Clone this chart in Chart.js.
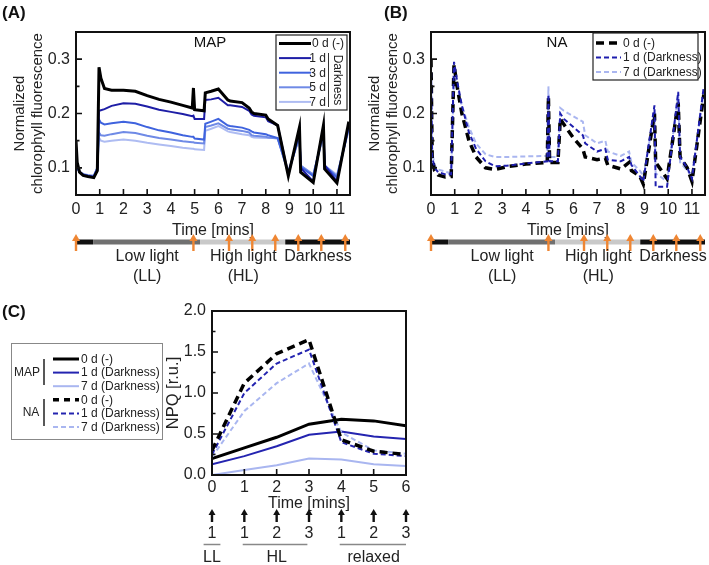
<!DOCTYPE html>
<html>
<head>
<meta charset="utf-8">
<script src="https://cdn.jsdelivr.net/npm/chart.js@4.4.1/dist/chart.umd.min.js"></script>
<style>
  body { margin: 0; background: #fff; width: 709px; height: 565px; position: relative; overflow: hidden; }
  canvas { position: absolute; }
</style>
</head>
<body>
<canvas id="chartA" width="355" height="295" style="left:0;top:0"></canvas>
<canvas id="chartB" width="354" height="295" style="left:355px;top:0"></canvas>
<canvas id="chartC" width="709" height="270" style="left:0;top:295px"></canvas>
<script>
// ---- data ----
const timeA = [0, 0.05, 0.15, 0.3, 0.5, 0.75, 0.9, 0.97, 1.05, 1.2, 1.5, 2.0, 2.5, 3.0, 3.5, 4.0, 4.5, 4.9, 4.95, 5.0, 5.4, 5.45, 5.7, 6.0, 6.4, 6.5, 7.0, 7.3, 7.4, 7.5, 8.0, 8.1, 8.5, 8.95, 9.42, 9.47, 10.0, 10.43, 10.48, 11.0, 11.5];
const mapDay0 = [0.15, 0.11, 0.092, 0.086, 0.084, 0.082, 0.095, 0.285, 0.265, 0.246, 0.243, 0.243, 0.241, 0.233, 0.226, 0.221, 0.215, 0.21, 0.247, 0.207, 0.205, 0.238, 0.241, 0.245, 0.225, 0.223, 0.22, 0.21, 0.203, 0.2, 0.197, 0.19, 0.178, 0.085, 0.175, 0.092, 0.073, 0.178, 0.098, 0.072, 0.185];
const mapDay1 = [0.14, 0.105, 0.092, 0.087, 0.085, 0.083, 0.097, 0.205, 0.206, 0.208, 0.214, 0.219, 0.218, 0.213, 0.207, 0.203, 0.199, 0.195, 0.196, 0.19, 0.19, 0.225, 0.226, 0.229, 0.215, 0.215, 0.212, 0.205, 0.198, 0.196, 0.193, 0.186, 0.178, 0.087, 0.17, 0.1, 0.075, 0.175, 0.105, 0.075, 0.18];
const mapDay3 = [0.13, 0.1, 0.092, 0.088, 0.086, 0.084, 0.1, 0.189, 0.183, 0.18, 0.182, 0.185, 0.182, 0.175, 0.169, 0.165, 0.16, 0.157, 0.157, 0.154, 0.152, 0.181, 0.185, 0.19, 0.178, 0.177, 0.174, 0.17, 0.167, 0.165, 0.162, 0.16, 0.155, 0.09, 0.16, 0.102, 0.085, 0.165, 0.104, 0.082, 0.175];
const mapDay5 = [0.125, 0.1, 0.092, 0.088, 0.086, 0.085, 0.1, 0.165, 0.16, 0.159, 0.162, 0.166, 0.164, 0.159, 0.155, 0.152, 0.149, 0.147, 0.147, 0.146, 0.145, 0.175, 0.178, 0.182, 0.172, 0.171, 0.168, 0.165, 0.16, 0.159, 0.157, 0.156, 0.154, 0.092, 0.158, 0.104, 0.087, 0.162, 0.104, 0.085, 0.172];
const mapDay7 = [0.12, 0.1, 0.093, 0.089, 0.087, 0.086, 0.1, 0.155, 0.15, 0.148, 0.15, 0.152, 0.15, 0.146, 0.143, 0.14, 0.137, 0.135, 0.135, 0.134, 0.133, 0.168, 0.172, 0.177, 0.167, 0.166, 0.162, 0.16, 0.157, 0.156, 0.155, 0.155, 0.155, 0.095, 0.155, 0.104, 0.088, 0.16, 0.104, 0.087, 0.17];

const timeB = [0, 0.05, 0.15, 0.3, 0.6, 0.85, 0.97, 1.1, 1.3, 1.6, 1.9, 2.3, 2.7, 3.2, 4.0, 4.9, 4.95, 5.0, 5.35, 5.45, 5.6, 6.0, 6.4, 6.5, 7.0, 7.35, 7.45, 8.0, 8.35, 8.45, 8.8, 8.95, 9.42, 9.47, 9.95, 10.42, 10.5, 10.8, 11.0, 11.5];
const naDay0 = [0.3, 0.12, 0.095, 0.087, 0.083, 0.084, 0.29, 0.25, 0.2, 0.15, 0.12, 0.1, 0.097, 0.102, 0.107, 0.11, 0.23, 0.11, 0.11, 0.19, 0.18, 0.155, 0.135, 0.12, 0.115, 0.118, 0.105, 0.098, 0.11, 0.095, 0.085, 0.07, 0.2, 0.11, 0.08, 0.22, 0.12, 0.1, 0.075, 0.235];
const naDay1 = [0.29, 0.12, 0.1, 0.092, 0.088, 0.088, 0.295, 0.26, 0.215, 0.165, 0.135, 0.112, 0.103, 0.104, 0.108, 0.112, 0.235, 0.112, 0.112, 0.2, 0.19, 0.175, 0.16, 0.145, 0.13, 0.135, 0.115, 0.112, 0.12, 0.105, 0.085, 0.075, 0.215, 0.065, 0.065, 0.24, 0.12, 0.1, 0.08, 0.25];
const naDay7 = [0.27, 0.13, 0.105, 0.097, 0.093, 0.09, 0.27, 0.25, 0.215, 0.175, 0.145, 0.125, 0.12, 0.12, 0.121, 0.122, 0.25, 0.12, 0.12, 0.21, 0.205, 0.195, 0.185, 0.16, 0.145, 0.15, 0.13, 0.122, 0.13, 0.11, 0.095, 0.085, 0.2, 0.09, 0.075, 0.235, 0.11, 0.095, 0.085, 0.24];

const xTicksAB = [0, 1, 2, 3, 4, 5, 6, 7, 8, 9, 10, 11];
const yTicksAB = [0.1, 0.2, 0.3];

// light protocol (minutes)
const phaseStart = [0, 0.72, 5.23, 8.82];
const phaseEnd = [0.72, 5.23, 8.82, 11.55];
const phaseColor = ['#111', '#707070', '#c9c9c9', '#111'];
const pulseTimes = [0, 4.95, 6.45, 7.43, 8.4, 9.37, 10.34, 11.35];
const phaseLabels = [['Low light', '(LL)'], ['High light', '(HL)'], ['Darkness']];
const phaseLabelAt = [3.0, 7.05, 10.2];

// panel C
const timeC = [0, 1, 2, 3, 4, 5, 6];
const npqMap0 = [0.2, 0.33, 0.46, 0.62, 0.68, 0.66, 0.60];
const npqMap1 = [0.13, 0.23, 0.35, 0.49, 0.53, 0.47, 0.44];
const npqMap7 = [0.0, 0.06, 0.12, 0.2, 0.19, 0.13, 0.11];
const npqNa0 = [0.3, 1.12, 1.48, 1.65, 0.43, 0.29, 0.25];
const npqNa1 = [0.25, 1.0, 1.36, 1.53, 0.4, 0.26, 0.23];
const npqNa7 = [0.22, 0.78, 1.12, 1.36, 0.52, 0.3, 0.26];
const yTicksC = [0, 0.5, 1.0, 1.5, 2.0];
const pulseNumC = ['1', '1', '2', '3', '1', '2', '3'];

const FONT = "'Liberation Sans', Arial, sans-serif";
Chart.defaults.font.family = FONT;
Chart.defaults.color = '#222';

const pts = (xs, ys) => xs.map((x, i) => ({ x: x, y: ys[i] }));

function line(label, xs, ys, color, width, dash) {
  return {
    label: label, data: pts(xs, ys), borderColor: color, borderWidth: width,
    borderDash: dash || [], pointRadius: 0, tension: 0, fill: false
  };
}

function frameAndTicks(chart, xMajor, yMajor, yMinor) {
  const ctx = chart.ctx, a = chart.chartArea, sx = chart.scales.x, sy = chart.scales.y;
  ctx.save();
  ctx.strokeStyle = '#111';
  ctx.lineWidth = 1.6;
  ctx.beginPath();
  xMajor.forEach(v => { const p = sx.getPixelForValue(v); ctx.moveTo(p, a.bottom); ctx.lineTo(p, a.bottom - 6); });
  yMajor.forEach(v => { const p = sy.getPixelForValue(v); ctx.moveTo(a.left, p); ctx.lineTo(a.left + 6, p); });
  yMinor.forEach(v => { const p = sy.getPixelForValue(v); ctx.moveTo(a.left, p); ctx.lineTo(a.left + 3.5, p); });
  ctx.stroke();
  ctx.lineWidth = 2;
  ctx.strokeRect(a.left, a.top, a.right - a.left, a.bottom - a.top);
  ctx.restore();
}

function arrowUp(ctx, x, tip, color, w, head, stem) {
  ctx.fillStyle = color;
  ctx.beginPath();
  ctx.moveTo(x, tip);
  ctx.lineTo(x + w / 2, tip + head);
  ctx.lineTo(x - w / 2, tip + head);
  ctx.closePath();
  ctx.fill();
  ctx.fillRect(x - 1.2, tip + head - 1, 2.4, stem);
}

function protocolBar(chart) {
  const ctx = chart.ctx, sx = chart.scales.x;
  ctx.save();
  for (let i = 0; i < phaseStart.length; i++) {
    const x0 = sx.getPixelForValue(phaseStart[i]), x1 = sx.getPixelForValue(phaseEnd[i]);
    ctx.fillStyle = phaseColor[i];
    ctx.fillRect(x0, 239.5, x1 - x0, 5);
  }
  pulseTimes.forEach(t => arrowUp(ctx, sx.getPixelForValue(t), 234, '#ef8633', 8, 7, 11));
  ctx.fillStyle = '#222';
  ctx.font = '16px ' + FONT;
  ctx.textAlign = 'center';
  ctx.textBaseline = 'middle';
  phaseLabels.forEach((lines, i) => {
    lines.forEach((s, j) => ctx.fillText(s, sx.getPixelForValue(phaseLabelAt[i]), 257 + j * 20));
  });
  ctx.restore();
}

function sample(ctx, x0, x1, y, color, width, dash) {
  ctx.save();
  ctx.strokeStyle = color;
  ctx.lineWidth = width;
  ctx.setLineDash(dash || []);
  ctx.beginPath();
  ctx.moveTo(x0, y);
  ctx.lineTo(x1, y);
  ctx.stroke();
  ctx.restore();
}

function xyScales(xTicks, yTicks, ymin, ymax, xmax, yTitle, yTitlePad, yWidth, xHeight, xTitlePad, tickPadX) {
  return {
    x: {
      type: 'linear', min: 0, max: xmax,
      afterBuildTicks: s => { s.ticks = xTicks.map(v => ({ value: v })); },
      afterFit: s => { s.height = xHeight; },
      grid: { display: false, drawTicks: false }, border: { display: false },
      ticks: { font: { size: 16 }, color: '#222', padding: tickPadX, maxRotation: 0, autoSkip: false },
      title: { display: true, text: 'Time [mins]', font: { size: 16 }, color: '#222', padding: { top: 0, bottom: xTitlePad } }
    },
    y: {
      min: ymin, max: ymax,
      afterBuildTicks: s => { s.ticks = yTicks.map(v => ({ value: v })); },
      afterFit: s => { s.width = yWidth; },
      grid: { display: false, drawTicks: false }, border: { display: false },
      ticks: { font: { size: 16 }, color: '#222', padding: 6, callback: v => Number(v).toFixed(1) },
      title: { display: true, text: yTitle, font: { size: yTitle.length === 2 ? 15 : 16.5 }, color: '#222', padding: { top: yTitlePad } }
    }
  };
}

// ---- panel A ----
const colA = ['#000000', '#1e1ea6', '#3f63de', '#6f8ae6', '#aebcf2'];
const legendA = ['0 d (-)', '1 d', '3 d', '5 d', '7 d'];

new Chart(document.getElementById('chartA'), {
  type: 'line',
  data: {
    datasets: [
      line('0 d (-)', timeA, mapDay0, colA[0], 3),
      line('1 d', timeA, mapDay1, colA[1], 2),
      line('3 d', timeA, mapDay3, colA[2], 2),
      line('5 d', timeA, mapDay5, colA[3], 2),
      line('7 d', timeA, mapDay7, colA[4], 2)
    ]
  },
  options: {
    responsive: false, animation: false,
    layout: { padding: { left: 0, top: 32, right: 5, bottom: 55 } },
    plugins: { legend: { display: false }, tooltip: { enabled: false } },
    scales: xyScales(xTicksAB, yTicksAB, 0.05, 0.35, 11.55, ['Normalized', 'chlorophyll fluorescence'], 11, 76, 45, 0, 5)
  },
  plugins: [{
    id: 'decorA',
    afterDraw(chart) {
      const ctx = chart.ctx;
      frameAndTicks(chart, xTicksAB, yTicksAB, [0.15, 0.25]);
      protocolBar(chart);
      ctx.save();
      ctx.fillStyle = '#111';
      ctx.font = 'bold 17px ' + FONT;
      ctx.textBaseline = 'middle';
      ctx.fillText('(A)', 2, 13);
      ctx.font = '15px ' + FONT;
      ctx.textAlign = 'center';
      ctx.fillText('MAP', 210, 43);
      // legend
      ctx.fillStyle = '#fff';
      ctx.fillRect(276, 35, 71, 75);
      ctx.strokeStyle = '#222';
      ctx.lineWidth = 1.2;
      ctx.strokeRect(276, 35, 71, 75);
      ctx.font = '12px ' + FONT;
      ctx.textAlign = 'right';
      legendA.forEach((s, i) => {
        const y = 43.5 + i * 14.6;
        sample(ctx, 279, 311, y, colA[i], i === 0 ? 3 : 2);
        ctx.fillStyle = '#222';
        ctx.fillText(s, i === 0 ? 344 : 326, y + 0.5);
      });
      ctx.strokeStyle = '#333';
      ctx.lineWidth = 1;
      ctx.beginPath();
      ctx.moveTo(328.5, 53);
      ctx.lineTo(328.5, 107);
      ctx.stroke();
      ctx.translate(337.5, 80);
      ctx.rotate(Math.PI / 2);
      ctx.textAlign = 'center';
      ctx.fillText('Darkness', 0, 0);
      ctx.restore();
    }
  }]
});

// ---- panel B ----
const colB = ['#000000', '#1e1eae', '#aab6f0'];
const dashB = [[8, 5], [5, 3], [5, 3]];
const widthB = [3.5, 2, 2];
const legendB = ['0 d (-)', '1 d (Darkness)', '7 d (Darkness)'];

new Chart(document.getElementById('chartB'), {
  type: 'line',
  data: {
    datasets: [
      line('1 d (Darkness)', timeB, naDay1, colB[1], widthB[1], dashB[1]),
      line('0 d (-)', timeB, naDay0, colB[0], widthB[0], dashB[0]),
      line('7 d (Darkness)', timeB, naDay7, colB[2], widthB[2], dashB[2])
    ]
  },
  options: {
    responsive: false, animation: false,
    layout: { padding: { left: 0, top: 32, right: 4, bottom: 55 } },
    plugins: { legend: { display: false }, tooltip: { enabled: false } },
    scales: xyScales(xTicksAB, yTicksAB, 0.05, 0.35, 11.55, ['Normalized', 'chlorophyll fluorescence'], 11, 76, 45, 0, 5)
  },
  plugins: [{
    id: 'decorB',
    afterDraw(chart) {
      const ctx = chart.ctx;
      frameAndTicks(chart, xTicksAB, yTicksAB, [0.15, 0.25]);
      protocolBar(chart);
      ctx.save();
      ctx.fillStyle = '#111';
      ctx.font = 'bold 17px ' + FONT;
      ctx.textBaseline = 'middle';
      ctx.fillText('(B)', 29, 13);
      ctx.font = '15px ' + FONT;
      ctx.textAlign = 'center';
      ctx.fillText('NA', 202, 43);
      ctx.fillStyle = '#fff';
      ctx.fillRect(238, 33, 105, 47);
      ctx.strokeStyle = '#222';
      ctx.lineWidth = 1.2;
      ctx.strokeRect(238, 33, 105, 47);
      ctx.font = '12px ' + FONT;
      ctx.textAlign = 'left';
      legendB.forEach((s, i) => {
        const y = 43 + i * 14.5;
        sample(ctx, 241, 266, y, colB[i], widthB[i], dashB[i]);
        ctx.fillStyle = '#222';
        ctx.fillText(s, 268, y + 0.5);
      });
      ctx.restore();
    }
  }]
});

// ---- panel C ----
const colC = ['#000000', '#2424b0', '#a9b6f0'];
const legendC = ['0 d (-)', '1 d (Darkness)', '7 d (Darkness)'];

new Chart(document.getElementById('chartC'), {
  type: 'line',
  data: {
    datasets: [
      line('NA 0 d (-)', timeC, npqNa0, colC[0], 3.5, [8, 5]),
      line('NA 1 d (Darkness)', timeC, npqNa1, colC[1], 2, [5, 3]),
      line('NA 7 d (Darkness)', timeC, npqNa7, colC[2], 2, [5, 3]),
      line('MAP 0 d (-)', timeC, npqMap0, colC[0], 3),
      line('MAP 1 d (Darkness)', timeC, npqMap1, colC[1], 2),
      line('MAP 7 d (Darkness)', timeC, npqMap7, colC[2], 2)
    ]
  },
  options: {
    responsive: false, animation: false,
    layout: { padding: { left: 160, top: 16, right: 303, bottom: 52 } },
    plugins: { legend: { display: false }, tooltip: { enabled: false } },
    scales: (() => {
      const s = xyScales(timeC, yTicksC, 0, 2, 6, 'NPQ [r.u.]', 4, 52, 38, 0, 3);
      s.x.ticks.callback = v => String(v);
      return s;
    })()
  },
  plugins: [{
    id: 'decorC',
    afterDraw(chart) {
      const ctx = chart.ctx, sx = chart.scales.x;
      frameAndTicks(chart, timeC, yTicksC, [0.25, 0.75, 1.25, 1.75]);
      ctx.save();
      ctx.fillStyle = '#111';
      ctx.font = 'bold 17px ' + FONT;
      ctx.textBaseline = 'middle';
      ctx.fillText('(C)', 2, 17);
      // pulses below the axis
      ctx.font = '16px ' + FONT;
      ctx.textAlign = 'center';
      timeC.forEach((t, i) => {
        const x = sx.getPixelForValue(t);
        arrowUp(ctx, x, 214, '#111', 7, 6, 8);
        ctx.fillStyle = '#222';
        ctx.fillText(pulseNumC[i], x, 239);
      });
      ctx.strokeStyle = '#888';
      ctx.lineWidth = 1.5;
      [[-0.26, 0.26], [0.95, 2.95], [3.95, 6.0]].forEach(r => {
        ctx.beginPath();
        ctx.moveTo(sx.getPixelForValue(r[0]), 249.5);
        ctx.lineTo(sx.getPixelForValue(r[1]), 249.5);
        ctx.stroke();
      });
      ctx.fillStyle = '#222';
      ctx.fillText('LL', sx.getPixelForValue(0), 263);
      ctx.fillText('HL', sx.getPixelForValue(2), 263);
      ctx.fillText('relaxed', sx.getPixelForValue(5), 263);
      // legend
      ctx.strokeStyle = '#888';
      ctx.lineWidth = 1;
      ctx.strokeRect(11.5, 48.5, 151, 96);
      ctx.font = '12px ' + FONT;
      ctx.textAlign = 'left';
      for (let i = 0; i < 6; i++) {
        const y = 64 + i * 13.6;
        const k = i % 3;
        if (i < 3) sample(ctx, 53, 79, y, colC[k], k === 0 ? 3 : 2);
        else sample(ctx, 53, 79, y, colC[k], k === 0 ? 3.5 : 2, k === 0 ? [6, 5] : [5, 3]);
        ctx.fillStyle = '#222';
        ctx.fillText(legendC[k], 81, y + 0.5);
      }
      ctx.textAlign = 'center';
      ctx.fillText('MAP', 27, 78);
      ctx.fillText('NA', 31, 118);
      ctx.strokeStyle = '#222';
      ctx.lineWidth = 1.5;
      ctx.beginPath();
      ctx.moveTo(44, 64); ctx.lineTo(44, 90);
      ctx.moveTo(44, 104); ctx.lineTo(44, 131);
      ctx.stroke();
      ctx.restore();
    }
  }]
});
</script>
</body>
</html>
